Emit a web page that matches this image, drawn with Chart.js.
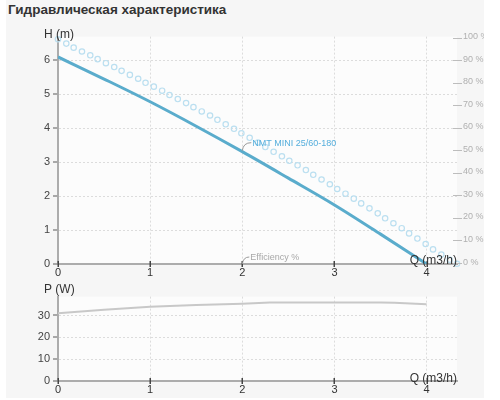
<!DOCTYPE html>
<html><head><meta charset="utf-8">
<script src="https://cdn.jsdelivr.net/npm/chart.js@4.4.1/dist/chart.umd.min.js"></script>
<style>
html,body{margin:0;padding:0;background:#fff;}
#panel{position:absolute;left:6px;top:0;width:478px;height:398px;background:#f6f6f6;overflow:hidden;}
#title{position:absolute;left:2px;top:2px;font:bold 13.5px "Liberation Sans",Arial,sans-serif;color:#333;white-space:nowrap;}
.box{position:absolute;left:-6px;width:500px;}
</style></head><body>
<div id="panel">
<div id="title">Гидравлическая характеристика</div>
<div class="box" style="top:22px;height:260px"><canvas id="c1"></canvas></div>
<div class="box" style="top:282px;height:116px"><canvas id="c2"></canvas></div>
</div>
<script>
const qTicks=[0,1,2,3,4];
const hTicks=[0,1,2,3,4,5,6];
const pctTicks=[0,10,20,30,40,50,60,70,80,90,100];
const pTicks=[0,10,20,30];
const qHead=[0,0.5,1,1.5,2,2.5,3,3.5,4];
const head=[6.1,5.45,4.78,4.06,3.31,2.53,1.74,0.88,0];
const qEff=[0,0.09,0.17,0.26,0.35,0.43,0.52,0.61,0.69,0.78,0.87,0.95,1.04,1.13,1.21,1.30,1.39,1.47,1.56,1.65,1.73,1.82,1.91,1.99,2.08,2.17,2.25,2.34,2.43,2.51,2.60,2.69,2.77,2.86,2.95,3.03,3.12,3.21,3.29,3.38,3.47,3.55,3.64,3.73,3.81,3.90,3.99,4.07,4.16,4.25,4.33];
const eff=[98.8,96.9,95.1,93.4,91.7,90.0,88.2,86.5,84.8,83.0,81.3,79.5,77.8,76.0,74.1,72.3,70.5,68.7,66.8,65.0,63.1,61.1,59.1,57.1,55.1,53.0,51.0,48.9,46.9,44.9,42.9,40.8,38.7,36.6,34.5,32.4,30.3,28.1,26.0,23.8,21.6,19.4,17.2,15.0,12.7,10.4,8.0,5.6,3.3,1.0,-0.8];
const qPower=[0,0.5,1,1.5,2,2.3,2.5,3,3.5,3.65,4];
const power=[31.0,32.6,34.0,34.8,35.4,35.9,36.0,36.0,35.9,35.8,35.2];
const seriesName='NMT MINI 25/60-180';
const effName='Efficiency %';
const hTitle='H (m)', pTitle='P (W)', qTitle='Q (m3/h)';

const FONT='"Liberation Sans", Arial, sans-serif';
Chart.defaults.font.family=FONT;

function setTicks(arr){return s=>{s.ticks=arr.map(v=>({value:v}));};}

function deco(o){return {
  id:'deco'+o.yId,
  beforeDraw(chart){
    const a=chart.chartArea,c=chart.ctx;
    c.save();c.fillStyle='#fcfcfc';c.fillRect(a.left,a.top,a.right-a.left,a.bottom-a.top);c.restore();
  },
  afterDraw(chart){
    const c=chart.ctx,a=chart.chartArea,xs=chart.scales.x,ys=chart.scales[o.yId];
    c.save();
    c.strokeStyle='#a8a8a8';c.lineWidth=2;
    ys.ticks.forEach(t=>{const y=Math.round(ys.getPixelForValue(t.value));c.beginPath();c.moveTo(a.left-5,y);c.lineTo(a.left,y);c.stroke();});
    c.strokeStyle='#444';c.lineWidth=1.5;
    xs.ticks.forEach(t=>{const x=Math.round(xs.getPixelForValue(t.value))+0.25;c.beginPath();c.moveTo(x,a.bottom-3);c.lineTo(x,a.bottom+3);c.stroke();});
    if(o.pct){
      const ps=chart.scales.yPct;
      c.strokeStyle='#bdbdbd';c.lineWidth=1;
      ps.ticks.forEach(t=>{const y=Math.round(ps.getPixelForValue(t.value))+1.5;c.beginPath();c.moveTo(a.right-4,y);c.lineTo(a.right+5,y);c.stroke();});
    }
    c.fillStyle='#333';c.font='12px '+FONT;
    c.textAlign='left';c.textBaseline='middle';
    c.fillText(o.title,44,a.top+o.titleDy);
    c.textAlign='right';c.textBaseline='alphabetic';
    c.fillText(qTitle,a.right,a.bottom+o.qDy);
    if(o.notes){
      const hs=chart.scales.yH;
      const x2=xs.getPixelForValue(2);
      let y0=hs.getPixelForValue(head[4]);
      c.strokeStyle='#9a9a9a';c.lineWidth=1;
      c.beginPath();c.moveTo(x2,y0-1);c.quadraticCurveTo(x2+1,y0-9,x2+9,y0-9);c.stroke();
      c.font='9px '+FONT;c.textAlign='left';c.textBaseline='middle';
      c.fillStyle='#55aedc';c.fillText(seriesName,x2+10,y0-8.5);
      let y1=hs.getPixelForValue(0);
      c.beginPath();c.moveTo(x2,y1);c.quadraticCurveTo(x2+1,y1-7,x2+7,y1-7);c.stroke();
      c.fillStyle='#a8a8a8';c.fillText(effName,x2+8,y1-6.5);
    }
    c.restore();
  }
};}

const gridOpt={color:'#dcdcdc',lineWidth:1,drawTicks:false};
const borderOpt={color:'#acacac',width:2,dash:[2,2]};

new Chart(document.getElementById('c1'),{
  type:'line',
  data:{datasets:[
    {label:effName,data:qEff.map((q,i)=>({x:q,y:eff[i]})),yAxisID:'yPct',showLine:false,
     pointRadius:2.7,pointBorderWidth:1.2,pointBorderColor:'#bbdff0',pointBackgroundColor:'rgba(0,0,0,0)',clip:false,order:2},
    {label:seriesName,data:qHead.map((q,i)=>({x:q,y:head[i]})),yAxisID:'yH',borderColor:'#5aaccc',borderWidth:3,
     pointRadius:0,cubicInterpolationMode:'monotone',order:1}
  ]},
  options:{
    responsive:true,maintainAspectRatio:false,animation:false,
    layout:{padding:{top:12,left:0,right:0,bottom:0}},
    plugins:{legend:{display:false},tooltip:{enabled:false}},
    scales:{
      x:{type:'linear',min:0,max:4.33,afterBuildTicks:setTicks(qTicks),afterFit:s=>{s.height=18;},
         grid:gridOpt,border:borderOpt,ticks:{padding:2,color:'#333',font:{size:11},autoSkip:false,maxRotation:0}},
      yH:{type:'linear',position:'left',min:0,max:6.7,afterBuildTicks:setTicks(hTicks),afterFit:s=>{s.width=58;},
         grid:gridOpt,border:borderOpt,ticks:{padding:8,color:'#444',font:{size:11},autoSkip:false}},
      yPct:{type:'linear',position:'right',min:-0.88,max:100,afterBuildTicks:setTicks(pctTicks),afterFit:s=>{s.width=43;},
         grid:{display:false,drawTicks:false},border:{display:false},
         ticks:{padding:6,color:'#b0b0b0',font:{size:9},autoSkip:false,callback:v=>v+' %'}}
    }
  },
  plugins:[deco({yId:'yH',pct:true,title:hTitle,titleDy:-1.5,qDy:0,notes:true})]
});

new Chart(document.getElementById('c2'),{
  type:'line',
  data:{datasets:[
    {label:'P',data:qPower.map((q,i)=>({x:q,y:power[i]})),yAxisID:'yP',borderColor:'#c8c8c8',borderWidth:2,pointRadius:0,tension:0}
  ]},
  options:{
    responsive:true,maintainAspectRatio:false,animation:false,
    layout:{padding:{top:11,left:0,right:43,bottom:0}},
    plugins:{legend:{display:false},tooltip:{enabled:false}},
    scales:{
      x:{type:'linear',min:0,max:4.33,afterBuildTicks:setTicks(qTicks),afterFit:s=>{s.height=17;},
         grid:gridOpt,border:borderOpt,ticks:{padding:2,color:'#333',font:{size:11},autoSkip:false,maxRotation:0}},
      yP:{type:'linear',position:'left',min:0,max:38.65,afterBuildTicks:setTicks(pTicks),afterFit:s=>{s.width=58;},
         grid:gridOpt,border:borderOpt,ticks:{padding:8,color:'#444',font:{size:11},autoSkip:false}}
    }
  },
  plugins:[deco({yId:'yP',pct:false,title:pTitle,titleDy:-7,qDy:0.5,notes:false})]
});
</script>
</body></html>
